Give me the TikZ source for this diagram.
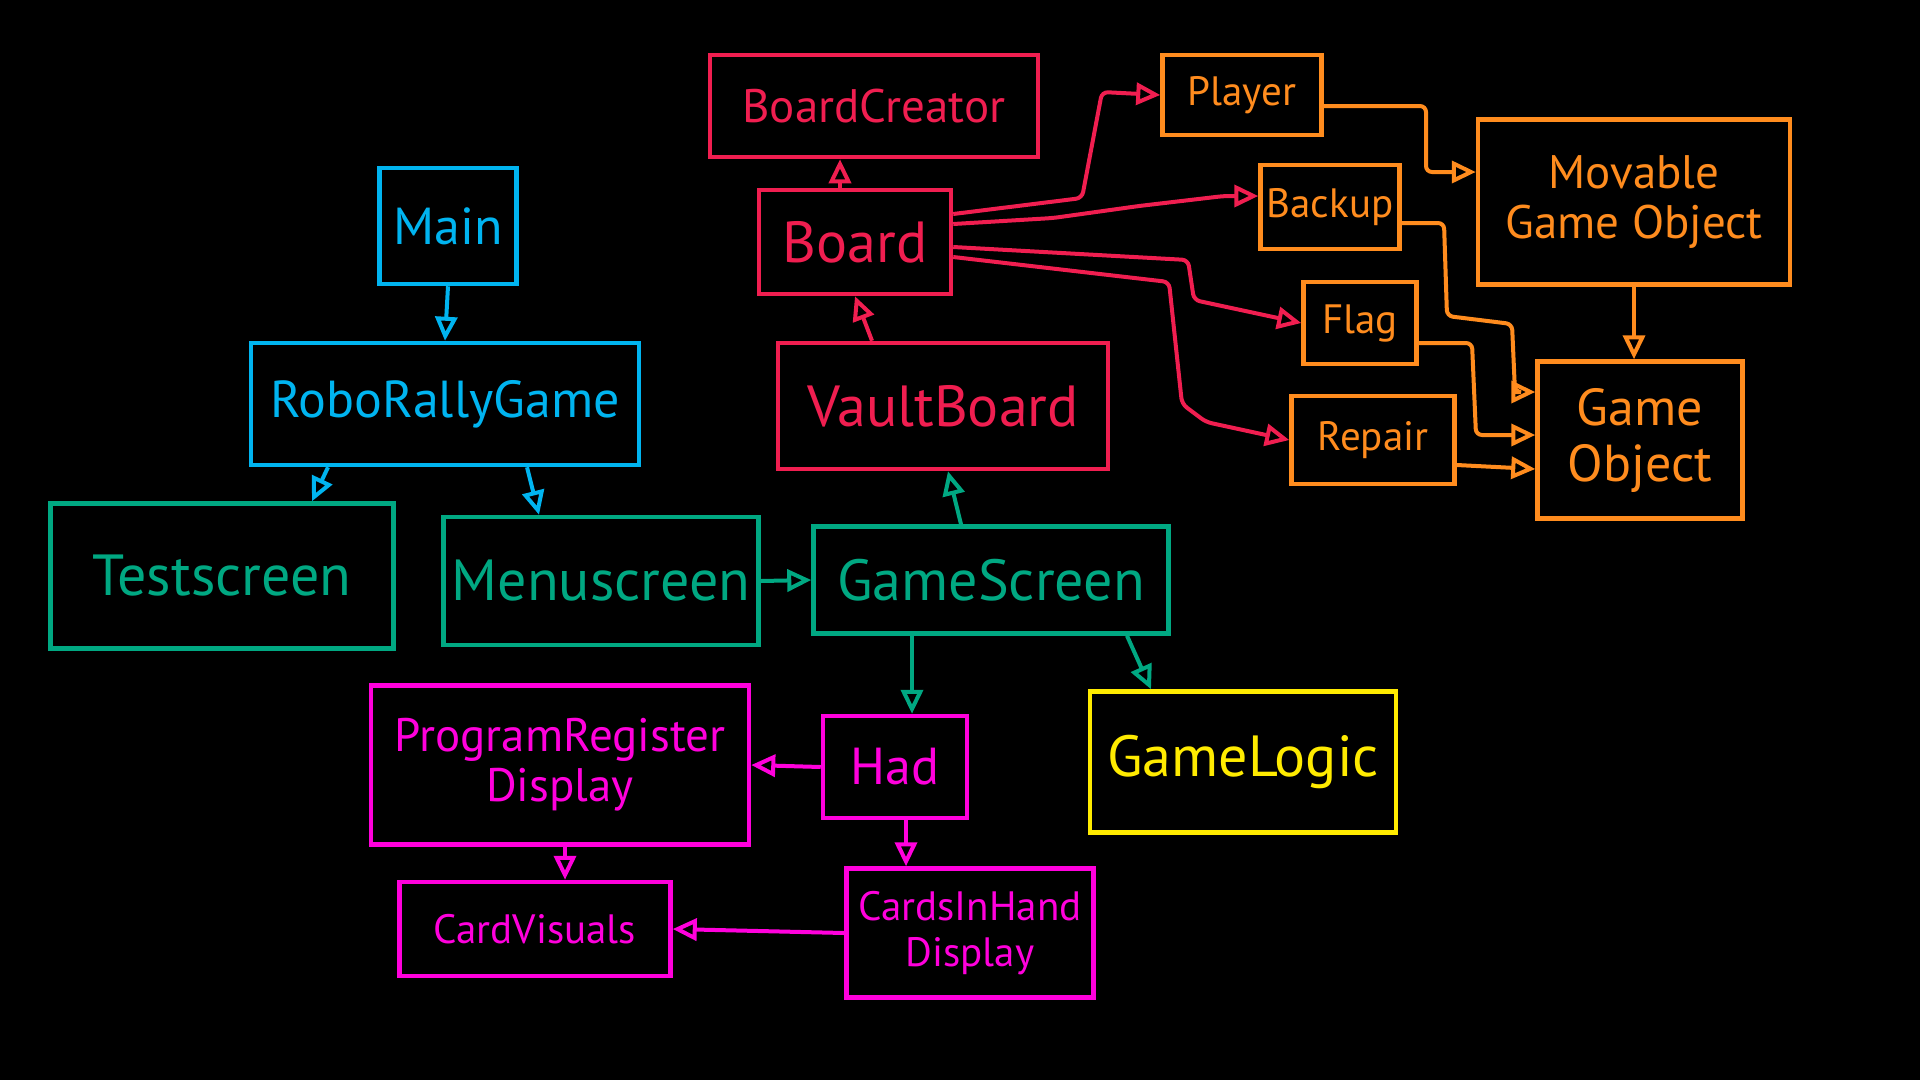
\documentclass[tikz,border=0pt]{standalone}
\usepackage{fontspec}
\setmainfont{PT Sans}
\usetikzlibrary{arrows.meta,positioning}
\definecolor{cCyan}{RGB}{0,180,240}
\definecolor{cTeal}{RGB}{0,168,130}
\definecolor{cRed}{RGB}{240,30,80}
\definecolor{cOrange}{RGB}{255,140,30}
\definecolor{cMagenta}{RGB}{255,0,220}
\definecolor{cYellow}{RGB}{255,235,0}
\tikzset{
	clsbox/.style={draw=#1, text=#1, line width=4.5pt, inner sep=0pt,
		align=center},
	arr/.style={-{Triangle[open,length=24pt,width=22pt]}, line width=4pt,
		draw=#1, rounded corners=6pt},
	fxl/.style={font=\fontsize{58}{60}\selectfont},
	fl/.style={font=\fontsize{52}{56}\selectfont},
	fm/.style={font=\fontsize{47}{50}\selectfont},
	fs/.style={font=\fontsize{41}{46}\selectfont},
}

\begin{document}
\begin{tikzpicture}[x=1pt,y=-1pt]
	\useasboundingbox (0,0) rectangle (1920,1080);
	\fill[black] (0,0) rectangle (1920,1080);

	% boxes
	\node[clsbox=cCyan, fl, minimum width=137pt, minimum height=116pt] (main) at (448,226) {Main};
	\node[clsbox=cCyan, fl, minimum width=388pt, minimum height=122pt] (rrg) at (445,404) {RoboRallyGame};
	\node[clsbox=cTeal, fxl, minimum width=343pt, minimum height=145pt] (test) at (222,576) {Testscreen};
	\node[clsbox=cTeal, fxl, minimum width=315pt, minimum height=128pt] (menu) at (601,581) {Menuscreen};
	\node[clsbox=cTeal, fxl, minimum width=355pt, minimum height=107pt] (gscreen) at (991,580) {GameScreen};

	\node[clsbox=cRed, fm, minimum width=328pt, minimum height=102pt] (creator) at (874,106) {BoardCreator};
	\node[clsbox=cRed, fxl, minimum width=192pt, minimum height=104pt] (board) at (855,242) {Board};
	\node[clsbox=cRed, fxl, minimum width=330pt, minimum height=126pt] (vault) at (943,406) {VaultBoard};

	\node[clsbox=cOrange, fs, minimum width=159pt, minimum height=80pt] (player) at (1242,95) {Player};
	\node[clsbox=cOrange, fs, minimum width=139pt, minimum height=84pt] (backup) at (1330,207) {Backup};
	\node[clsbox=cOrange, fs, minimum width=113pt, minimum height=82pt] (flag) at (1360,323) {Flag};
	\node[clsbox=cOrange, fs, minimum width=163pt, minimum height=88pt] (repair) at (1373,440) {Repair};
	\node[clsbox=cOrange, fm, minimum width=312pt, minimum height=165pt] (mgo) at (1634,202) {Movable\\Game Object};
	\node[clsbox=cOrange, fl, minimum width=205pt, minimum height=157pt] (gobj) at (1640,440) {Game\\Object};

	\node[clsbox=cMagenta, fm, minimum width=378pt, minimum height=159pt] (prd) at (560,765) {ProgramRegister\\Display};
	\node[clsbox=cMagenta, fl, minimum width=144pt, minimum height=102pt] (had) at (895,767) {Had};
	\node[clsbox=cMagenta, fs, minimum width=271pt, minimum height=94pt] (cvis) at (535,929) {CardVisuals};
	\node[clsbox=cMagenta, fs, minimum width=247pt, minimum height=129pt] (cih) at (970,933) {CardsInHand\\Display};

	\node[clsbox=cYellow, fxl, minimum width=306pt, minimum height=141pt] (glogic) at (1243,762) {GameLogic};

	% screens
	\draw[arr=cCyan] (main.south) -- (rrg.north);
	\draw[arr=cCyan] ([xshift=-117pt]rrg.south) -- ([xshift=90pt]test.north);
	\draw[arr=cCyan] ([xshift=82pt]rrg.south) -- ([xshift=-62pt]menu.north);
	\draw[arr=cTeal] (menu.east) -- (gscreen.west);
	\draw[arr=cTeal] ([xshift=-30pt]gscreen.north) -- ([xshift=5pt]vault.south);
	\draw[arr=cTeal] ([xshift=-79pt]gscreen.south) -- ([xshift=17pt]had.north);
	\draw[arr=cTeal] ([xshift=136pt]gscreen.south) -- ([xshift=-92pt]glogic.north);

	% board
	\draw[arr=cRed] ([xshift=-71pt]vault.north) -- (board.south);
	\draw[arr=cRed] ([xshift=-15pt]board.north) -- ([xshift=-34pt]creator.south);
	\draw[arr=cRed] ([yshift=28pt]board.east) -- (1082,198) -- (1102,92) -- (player.west);
	\draw[arr=cRed] ([yshift=18pt]board.east) -- (1053,218) -- (1139,206) -- (1224,196) -- ([yshift=11pt]backup.west);
	\draw[arr=cRed] ([yshift=-5pt]board.east) -- (1188,260) -- (1194,300) -- (flag.west);
	\draw[arr=cRed] ([yshift=-15pt]board.east) -- (1169,282) -- (1182,404) -- (1206,422) -- (repair.west);

	% game objects
	\draw[arr=cOrange] ([yshift=-11pt]player.east) -- (1426,106) -- (1426,172) -- ([yshift=30pt]mgo.west);
	\draw[arr=cOrange] (mgo.south) -- (mgo.south |- gobj.north);
	\draw[arr=cOrange] ([yshift=-16pt]backup.east) -- (1444,223) -- (1447,316) -- (1512,324) -- (1515,392) -- ([yshift=48pt]gobj.west);
	\draw[arr=cOrange] ([yshift=-20pt]flag.east) -- (1472,343) -- (1476,435) -- ([yshift=5pt]gobj.west);
	\draw[arr=cOrange] ([yshift=-25pt]repair.east) -- ([yshift=-29pt]gobj.west);

	% cards
	\draw[arr=cMagenta] (had.west) -- (prd.east);
	\draw[arr=cMagenta] ([xshift=11pt]had.south) -- ([xshift=-64pt]cih.north);
	\draw[arr=cMagenta] ([xshift=5pt]prd.south) -- ([xshift=30pt]cvis.north);
	\draw[arr=cMagenta] (cih.west) -- (cvis.east);
\end{tikzpicture}
\end{document}
